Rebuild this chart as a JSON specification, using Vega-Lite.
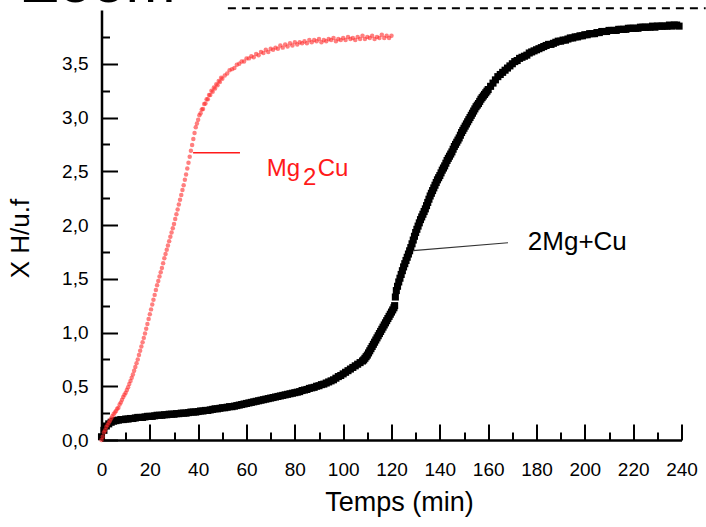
{
  "$schema": "https://vega.github.io/schema/vega-lite/v6.json",
  "autosize": "none",
  "width": 580,
  "height": 430,
  "padding": {"left": 101.5, "top": 10, "right": 24.5, "bottom": 87},
  "config": {"view": {"stroke": null}, "font": "Liberation Sans"},
  "datasets": {
    "one": [{}],
    "black": [
      {"t":0,"v":0.03},{"t":1,"v":0.09},{"t":2,"v":0.13},{"t":3,"v":0.15},{"t":4,"v":0.165},{"t":5,"v":0.175},{"t":6,"v":0.18},{"t":7,"v":0.185},{"t":8,"v":0.19},{"t":9,"v":0.19},
      {"t":10,"v":0.195},{"t":11,"v":0.195},{"t":12,"v":0.2},{"t":13,"v":0.2},{"t":14,"v":0.205},{"t":15,"v":0.21},{"t":16,"v":0.21},{"t":17,"v":0.21},{"t":18,"v":0.215},{"t":19,"v":0.22},
      {"t":20,"v":0.22},{"t":21,"v":0.22},{"t":22,"v":0.225},{"t":23,"v":0.23},{"t":24,"v":0.23},{"t":25,"v":0.23},{"t":26,"v":0.235},{"t":27,"v":0.235},{"t":28,"v":0.24},{"t":29,"v":0.24},
      {"t":30,"v":0.24},{"t":31,"v":0.245},{"t":32,"v":0.245},{"t":33,"v":0.25},{"t":34,"v":0.25},{"t":35,"v":0.25},{"t":36,"v":0.255},{"t":37,"v":0.26},{"t":38,"v":0.26},{"t":39,"v":0.26},
      {"t":40,"v":0.265},{"t":41,"v":0.27},{"t":42,"v":0.27},{"t":43,"v":0.275},{"t":44,"v":0.275},{"t":45,"v":0.28},{"t":46,"v":0.285},{"t":47,"v":0.29},{"t":48,"v":0.29},{"t":49,"v":0.295},
      {"t":50,"v":0.3},{"t":51,"v":0.3},{"t":52,"v":0.305},{"t":53,"v":0.31},{"t":54,"v":0.31},{"t":55,"v":0.315},{"t":56,"v":0.32},{"t":57,"v":0.325},{"t":58,"v":0.33},{"t":59,"v":0.335},
      {"t":60,"v":0.34},{"t":61,"v":0.345},{"t":62,"v":0.35},{"t":63,"v":0.355},{"t":64,"v":0.36},{"t":65,"v":0.365},{"t":66,"v":0.37},{"t":67,"v":0.375},{"t":68,"v":0.38},{"t":69,"v":0.385},
      {"t":70,"v":0.39},{"t":71,"v":0.395},{"t":72,"v":0.4},{"t":73,"v":0.405},{"t":74,"v":0.41},{"t":75,"v":0.415},{"t":76,"v":0.42},{"t":77,"v":0.425},{"t":78,"v":0.43},{"t":79,"v":0.435},
      {"t":80,"v":0.44},{"t":81,"v":0.445},{"t":82,"v":0.45},{"t":83,"v":0.46},{"t":84,"v":0.465},{"t":85,"v":0.47},{"t":86,"v":0.48},{"t":87,"v":0.485},{"t":88,"v":0.49},{"t":89,"v":0.5},
      {"t":90,"v":0.505},{"t":91,"v":0.515},{"t":92,"v":0.52},{"t":93,"v":0.53},{"t":94,"v":0.54},{"t":95,"v":0.55},{"t":96,"v":0.56},{"t":97,"v":0.575},{"t":98,"v":0.59},{"t":99,"v":0.6},
      {"t":100,"v":0.615},{"t":101,"v":0.63},{"t":102,"v":0.645},{"t":103,"v":0.66},{"t":104,"v":0.675},{"t":105,"v":0.69},{"t":106,"v":0.705},{"t":107,"v":0.72},{"t":108,"v":0.735},{"t":108.5,"v":0.745},{"t":109,"v":0.76},{"t":109.5,"v":0.775},
      {"t":110,"v":0.79},{"t":110.5,"v":0.81},{"t":111,"v":0.83},{"t":111.5,"v":0.85},{"t":112,"v":0.87},{"t":112.5,"v":0.89},{"t":113,"v":0.91},{"t":113.5,"v":0.93},{"t":114,"v":0.95},{"t":114.5,"v":0.97},{"t":115,"v":0.99},{"t":115.5,"v":1.01},{"t":116,"v":1.03},{"t":116.5,"v":1.05},{"t":117,"v":1.07},{"t":117.5,"v":1.09},{"t":118,"v":1.11},{"t":118.5,"v":1.13},{"t":119,"v":1.15},{"t":119.5,"v":1.17},
      {"t":120,"v":1.19},{"t":120.5,"v":1.21},{"t":121,"v":1.23},{"t":121.3,"v":1.25},{"t":121.6,"v":1.33},{"t":122,"v":1.39},{"t":122.5,"v":1.43},{"t":123,"v":1.47},{"t":123.5,"v":1.505},{"t":124,"v":1.54},{"t":124.5,"v":1.575},{"t":125,"v":1.61},{"t":125.5,"v":1.64},{"t":126,"v":1.67},{"t":126.5,"v":1.7},{"t":127,"v":1.73},{"t":127.5,"v":1.76},{"t":128,"v":1.79},{"t":128.5,"v":1.825},{"t":129,"v":1.86},{"t":129.5,"v":1.895},
      {"t":130,"v":1.93},{"t":130.5,"v":1.96},{"t":131,"v":1.99},{"t":131.5,"v":2.02},{"t":132,"v":2.05},{"t":132.5,"v":2.075},{"t":133,"v":2.1},{"t":133.5,"v":2.125},{"t":134,"v":2.15},{"t":134.5,"v":2.18},{"t":135,"v":2.21},{"t":135.5,"v":2.24},{"t":136,"v":2.27},{"t":136.5,"v":2.295},{"t":137,"v":2.32},{"t":137.5,"v":2.345},{"t":138,"v":2.37},{"t":138.5,"v":2.395},{"t":139,"v":2.42},{"t":139.5,"v":2.44},
      {"t":140,"v":2.46},{"t":140.5,"v":2.485},{"t":141,"v":2.51},{"t":141.5,"v":2.53},{"t":142,"v":2.55},{"t":142.5,"v":2.575},{"t":143,"v":2.6},{"t":143.5,"v":2.62},{"t":144,"v":2.64},{"t":144.5,"v":2.66},{"t":145,"v":2.68},{"t":145.5,"v":2.705},{"t":146,"v":2.73},{"t":146.5,"v":2.75},{"t":147,"v":2.77},{"t":147.5,"v":2.79},{"t":148,"v":2.81},{"t":148.5,"v":2.835},{"t":149,"v":2.86},{"t":149.5,"v":2.88},
      {"t":150,"v":2.9},{"t":150.5,"v":2.92},{"t":151,"v":2.94},{"t":151.5,"v":2.96},{"t":152,"v":2.98},{"t":152.5,"v":3.0},{"t":153,"v":3.02},{"t":153.5,"v":3.04},{"t":154,"v":3.06},{"t":154.5,"v":3.08},{"t":155,"v":3.1},{"t":155.5,"v":3.115},{"t":156,"v":3.13},{"t":156.5,"v":3.15},{"t":157,"v":3.17},{"t":157.5,"v":3.185},{"t":158,"v":3.2},{"t":158.5,"v":3.215},{"t":159,"v":3.23},{"t":159.5,"v":3.245},
      {"t":160,"v":3.26},{"t":161,"v":3.29},{"t":162,"v":3.32},{"t":163,"v":3.35},{"t":164,"v":3.38},{"t":165,"v":3.4},{"t":166,"v":3.42},{"t":167,"v":3.44},{"t":168,"v":3.46},{"t":169,"v":3.48},
      {"t":170,"v":3.5},{"t":171,"v":3.52},{"t":172,"v":3.53},{"t":173,"v":3.55},{"t":174,"v":3.56},{"t":175,"v":3.57},{"t":176,"v":3.58},{"t":177,"v":3.6},{"t":178,"v":3.61},{"t":179,"v":3.62},
      {"t":180,"v":3.63},{"t":181,"v":3.64},{"t":182,"v":3.65},{"t":183,"v":3.66},{"t":184,"v":3.67},{"t":185,"v":3.68},{"t":186,"v":3.68},{"t":187,"v":3.69},{"t":188,"v":3.7},{"t":189,"v":3.71},
      {"t":190,"v":3.71},{"t":191,"v":3.72},{"t":192,"v":3.72},{"t":193,"v":3.73},{"t":194,"v":3.74},{"t":195,"v":3.74},{"t":196,"v":3.75},{"t":197,"v":3.75},{"t":198,"v":3.76},{"t":199,"v":3.76},
      {"t":200,"v":3.77},{"t":201,"v":3.77},{"t":202,"v":3.78},{"t":203,"v":3.78},{"t":204,"v":3.78},{"t":205,"v":3.79},{"t":206,"v":3.79},{"t":207,"v":3.8},{"t":208,"v":3.8},{"t":209,"v":3.8},
      {"t":210,"v":3.81},{"t":211,"v":3.81},{"t":212,"v":3.81},{"t":213,"v":3.81},{"t":214,"v":3.82},{"t":215,"v":3.82},{"t":216,"v":3.82},{"t":217,"v":3.82},{"t":218,"v":3.83},{"t":219,"v":3.83},
      {"t":220,"v":3.83},{"t":221,"v":3.83},{"t":222,"v":3.83},{"t":223,"v":3.84},{"t":224,"v":3.84},{"t":225,"v":3.84},{"t":226,"v":3.84},{"t":227,"v":3.84},{"t":228,"v":3.85},{"t":229,"v":3.84},
      {"t":230,"v":3.85},{"t":231,"v":3.85},{"t":232,"v":3.85},{"t":233,"v":3.85},{"t":234,"v":3.85},{"t":235,"v":3.86},{"t":236,"v":3.85},{"t":237,"v":3.86},{"t":238,"v":3.86},{"t":239,"v":3.85}
    ],
    "red": [
      {"t":0,"v":0.0},{"t":0.5,"v":0.03},{"t":1,"v":0.07},{"t":1.5,"v":0.09},{"t":2,"v":0.12},{"t":2.5,"v":0.14},{"t":3,"v":0.16},{"t":3.5,"v":0.18},{"t":4,"v":0.2},{"t":4.5,"v":0.22},
      {"t":5,"v":0.24},{"t":5.5,"v":0.255},{"t":6,"v":0.27},{"t":6.5,"v":0.29},{"t":7,"v":0.3},{"t":7.5,"v":0.33},{"t":8,"v":0.35},{"t":8.5,"v":0.375},{"t":9,"v":0.4},{"t":9.5,"v":0.42},
      {"t":10,"v":0.44},{"t":10.5,"v":0.465},{"t":11,"v":0.49},{"t":11.5,"v":0.52},{"t":12,"v":0.55},{"t":12.5,"v":0.58},{"t":13,"v":0.61},{"t":13.5,"v":0.645},{"t":14,"v":0.68},{"t":14.5,"v":0.715},
      {"t":15,"v":0.75},{"t":15.5,"v":0.79},{"t":16,"v":0.83},{"t":16.5,"v":0.87},{"t":17,"v":0.91},{"t":17.5,"v":0.95},{"t":18,"v":0.99},{"t":18.5,"v":1.035},{"t":19,"v":1.08},{"t":19.5,"v":1.125},
      {"t":20,"v":1.17},{"t":20.5,"v":1.215},{"t":21,"v":1.26},{"t":21.5,"v":1.305},{"t":22,"v":1.35},{"t":22.5,"v":1.395},{"t":23,"v":1.44},{"t":23.5,"v":1.48},{"t":24,"v":1.52},{"t":24.5,"v":1.56},
      {"t":25,"v":1.6},{"t":25.5,"v":1.645},{"t":26,"v":1.69},{"t":26.5,"v":1.73},{"t":27,"v":1.77},{"t":27.5,"v":1.81},{"t":28,"v":1.85},{"t":28.5,"v":1.89},{"t":29,"v":1.93},{"t":29.5,"v":1.97},
      {"t":30,"v":2.01},{"t":30.5,"v":2.055},{"t":31,"v":2.1},{"t":31.5,"v":2.145},{"t":32,"v":2.19},{"t":32.5,"v":2.235},{"t":33,"v":2.28},{"t":33.5,"v":2.325},{"t":34,"v":2.37},{"t":34.5,"v":2.42},
      {"t":35,"v":2.47},{"t":35.5,"v":2.525},{"t":36,"v":2.58},{"t":36.5,"v":2.635},{"t":37,"v":2.69},{"t":37.5,"v":2.745},{"t":38,"v":2.8},{"t":38.5,"v":2.855},{"t":39,"v":2.91},{"t":39.5,"v":2.945},
      {"t":40,"v":2.98},{"t":40.5,"v":3.02},{"t":41,"v":3.04},{"t":41.5,"v":3.075},{"t":42,"v":3.08},{"t":42.5,"v":3.125},{"t":43,"v":3.13},{"t":43.5,"v":3.17},{"t":44,"v":3.17},{"t":44.5,"v":3.21},
      {"t":45,"v":3.21},{"t":45.5,"v":3.25},{"t":46,"v":3.24},{"t":46.5,"v":3.28},{"t":47,"v":3.27},{"t":47.5,"v":3.31},{"t":48,"v":3.3},{"t":48.5,"v":3.34},{"t":49,"v":3.33},{"t":49.5,"v":3.37},
      {"t":50,"v":3.36},{"t":51,"v":3.39},{"t":52,"v":3.41},{"t":53,"v":3.44},{"t":54,"v":3.45},{"t":55,"v":3.46},{"t":56,"v":3.49},{"t":57,"v":3.5},{"t":58,"v":3.52},{"t":59,"v":3.52},
      {"t":60,"v":3.55},{"t":61,"v":3.55},{"t":62,"v":3.57},{"t":63,"v":3.56},{"t":64,"v":3.59},{"t":65,"v":3.58},{"t":66,"v":3.61},{"t":67,"v":3.6},{"t":68,"v":3.63},{"t":69,"v":3.61},
      {"t":70,"v":3.64},{"t":71,"v":3.63},{"t":72,"v":3.65},{"t":73,"v":3.64},{"t":74,"v":3.67},{"t":75,"v":3.65},{"t":76,"v":3.68},{"t":77,"v":3.66},{"t":78,"v":3.69},{"t":79,"v":3.67},
      {"t":80,"v":3.7},{"t":81,"v":3.68},{"t":82,"v":3.7},{"t":83,"v":3.69},{"t":84,"v":3.71},{"t":85,"v":3.69},{"t":86,"v":3.72},{"t":87,"v":3.7},{"t":88,"v":3.72},{"t":89,"v":3.71},
      {"t":90,"v":3.73},{"t":91,"v":3.7},{"t":92,"v":3.72},{"t":93,"v":3.71},{"t":94,"v":3.73},{"t":95,"v":3.72},{"t":96,"v":3.74},{"t":97,"v":3.71},{"t":98,"v":3.73},{"t":99,"v":3.72},
      {"t":100,"v":3.74},{"t":101,"v":3.72},{"t":102,"v":3.75},{"t":103,"v":3.73},{"t":104,"v":3.74},{"t":105,"v":3.72},{"t":106,"v":3.75},{"t":107,"v":3.73},{"t":108,"v":3.76},{"t":109,"v":3.73},
      {"t":110,"v":3.75},{"t":111,"v":3.74},{"t":112,"v":3.76},{"t":113,"v":3.73},{"t":114,"v":3.75},{"t":115,"v":3.74},{"t":116,"v":3.77},{"t":117,"v":3.74},{"t":118,"v":3.76},{"t":119,"v":3.74},{"t":120,"v":3.76}
    ]
  },
  "resolve": {"axis": {"x": "independent", "y": "independent"}},
  "layer": [
    {
      "data": {"name": "black"},
      "mark": {"type": "point", "shape": "square", "filled": true, "color": "black", "size": 50, "opacity": 1},
      "encoding": {
        "x": {"field": "t", "type": "quantitative",
          "scale": {"domain": [0, 240], "nice": false, "zero": false},
          "axis": {"orient": "bottom", "values": [0,20,40,60,80,100,120,140,160,180,200,220,240], "format": "d",
            "tickSize": -16, "tickWidth": 2, "tickColor": "black", "domainColor": "black", "domainWidth": 2.5,
            "labelFont": "Liberation Sans", "labelFontSize": 19, "labelColor": "black", "labelPadding": 36,
            "labelFlush": false, "labelOverlap": false, "grid": false,
            "title": "Temps (min)", "titleFont": "Liberation Sans", "titleFontSize": 27, "titleFontWeight": "normal", "titleColor": "black", "titlePadding": 10, "titleX": 297.5}},
        "y": {"field": "v", "type": "quantitative",
          "scale": {"domain": [0, 4], "nice": false, "zero": false},
          "axis": {"orient": "left", "values": [0,0.5,1,1.5,2,2.5,3,3.5],
            "labelExpr": "replace(format(datum.value, '.1f'), '.', ',')",
            "tickSize": -16, "tickWidth": 2, "tickColor": "black", "domainColor": "black", "domainWidth": 2.5,
            "labelFont": "Liberation Sans", "labelFontSize": 19, "labelColor": "black", "labelPadding": 29.5,
            "labelFlush": false, "labelOverlap": false, "grid": false,
            "title": "X H/u.f", "titleFont": "Liberation Sans", "titleFontSize": 26, "titleFontWeight": "normal", "titleColor": "black", "titleX": -68, "titleY": 228}}
      }
    },
    {
      "data": {"name": "red"},
      "mark": {"type": "circle", "color": "#ff2a2a", "size": 20, "opacity": 0.6},
      "encoding": {
        "x": {"field": "t", "type": "quantitative",
          "scale": {"domain": [0, 240], "nice": false, "zero": false},
          "axis": {"orient": "bottom", "values": [10,30,50,70,90,110,130,150,170,190,210,230],
            "tickSize": -8, "tickWidth": 2, "tickColor": "black", "domain": false, "labels": false, "grid": false, "title": null}},
        "y": {"field": "v", "type": "quantitative",
          "scale": {"domain": [0, 4], "nice": false, "zero": false},
          "axis": {"orient": "left", "values": [0.25,0.75,1.25,1.75,2.25,2.75,3.25,3.75],
            "tickSize": -8, "tickWidth": 2, "tickColor": "black", "domain": false, "labels": false, "grid": false, "title": null}}
      }
    },
    {
      "data": {"name": "one"},
      "mark": {"type": "rule", "color": "#ff1a1a", "strokeWidth": 1.5},
      "encoding": {
        "x": {"datum": 37.9, "type": "quantitative", "axis": null},
        "x2": {"datum": 57.3},
        "y": {"datum": 2.673, "type": "quantitative", "axis": null}
      }
    },
    {
      "data": {"name": "one"},
      "mark": {"type": "rule", "color": "#333333", "strokeWidth": 1.2},
      "encoding": {
        "x": {"datum": 128.9, "type": "quantitative", "axis": null},
        "x2": {"datum": 168.2},
        "y": {"datum": 1.761, "type": "quantitative", "axis": null},
        "y2": {"datum": 1.835}
      }
    },
    {
      "data": {"name": "one"},
      "mark": {"type": "rule", "color": "black", "strokeWidth": 2, "strokeDash": [8, 6]},
      "encoding": {
        "x": {"datum": 52.3, "type": "quantitative", "axis": null},
        "x2": {"datum": 250},
        "y": {"datum": 4.016, "type": "quantitative", "axis": null}
      }
    },
    {
      "data": {"name": "one"},
      "mark": {"type": "text", "text": "Zoom", "font": "Liberation Sans", "fontSize": 60, "align": "left", "baseline": "alphabetic", "color": "black"},
      "encoding": {
        "x": {"datum": -32.9, "type": "quantitative", "axis": null},
        "y": {"datum": 4.07, "type": "quantitative", "axis": null}
      }
    },
    {
      "data": {"name": "one"},
      "mark": {"type": "text", "text": "Mg", "font": "Liberation Sans", "fontSize": 24, "align": "left", "baseline": "alphabetic", "color": "#ff1a1a"},
      "encoding": {
        "x": {"datum": 68.4, "type": "quantitative", "axis": null},
        "y": {"datum": 2.456, "type": "quantitative", "axis": null}
      }
    },
    {
      "data": {"name": "one"},
      "mark": {"type": "text", "text": "2", "font": "Liberation Sans", "fontSize": 24, "align": "left", "baseline": "alphabetic", "color": "#ff1a1a"},
      "encoding": {
        "x": {"datum": 83.4, "type": "quantitative", "axis": null},
        "y": {"datum": 2.372, "type": "quantitative", "axis": null}
      }
    },
    {
      "data": {"name": "one"},
      "mark": {"type": "text", "text": "Cu", "font": "Liberation Sans", "fontSize": 24, "align": "left", "baseline": "alphabetic", "color": "#ff1a1a"},
      "encoding": {
        "x": {"datum": 89.5, "type": "quantitative", "axis": null},
        "y": {"datum": 2.456, "type": "quantitative", "axis": null}
      }
    },
    {
      "data": {"name": "one"},
      "mark": {"type": "text", "text": "2Mg+Cu", "font": "Liberation Sans", "fontSize": 26, "align": "left", "baseline": "alphabetic", "color": "black"},
      "encoding": {
        "x": {"datum": 176.4, "type": "quantitative", "axis": null},
        "y": {"datum": 1.767, "type": "quantitative", "axis": null}
      }
    }
  ]
}
